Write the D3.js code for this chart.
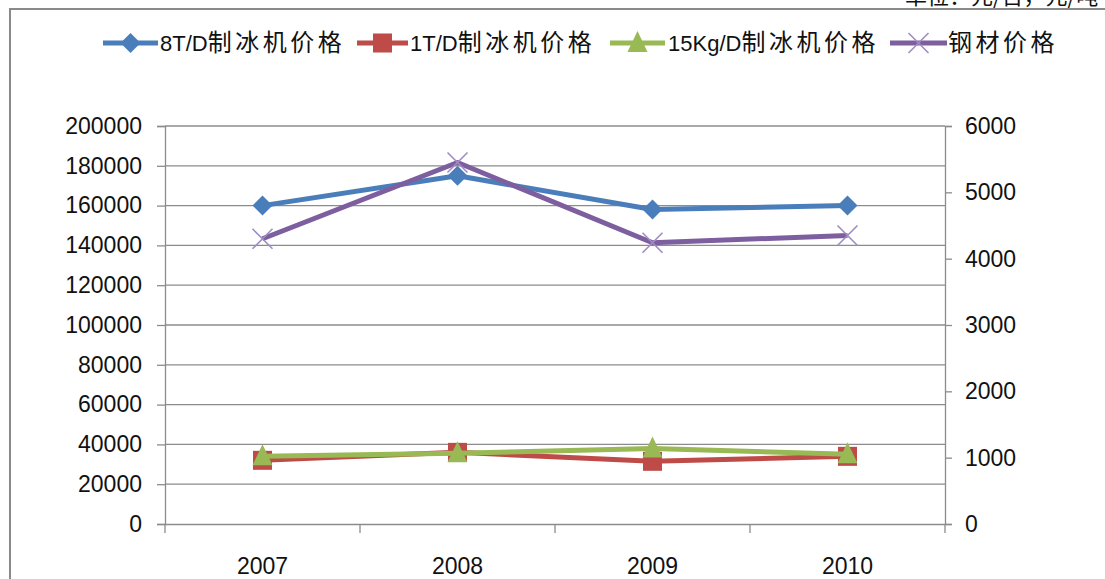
<!DOCTYPE html>
<html><head><meta charset="utf-8">
<script src="https://cdn.jsdelivr.net/npm/d3@7"></script>
<style>body{margin:0;background:#fff;}svg{display:block;}</style>
</head><body>
<svg id="c" width="1105" height="579"></svg>
<script>
const categories = ["2007","2008","2009","2010"];
const ice8T = [160000,175000,158000,160000];
const ice1T = [32000,36000,31500,34000];
const ice15Kg = [34000,35500,38000,35000];
const steel = [4300,5450,4240,4350];
const leftTicks = [0,20000,40000,60000,80000,100000,120000,140000,160000,180000,200000];
const rightTicks = [0,1000,2000,3000,4000,5000,6000];
const seriesNames = ["8T/D制冰机价格","1T/D制冰机价格","15Kg/D制冰机价格","钢材价格"];
const unitText = "单位：元/台，元/吨";

const svg = d3.select("#c");
const L=165, R=945, T=126, B=524;
const x = d3.scaleBand().domain(categories).range([L,R]);
const yL = d3.scaleLinear().domain([0,200000]).range([B,T]);
const yR = d3.scaleLinear().domain([0,6000]).range([B,T]);
const grid="#8c8c8c";
const font="'Liberation Sans', Arial, sans-serif";
const cjk="'Noto Sans CJK SC',sans-serif";

svg.append("rect").attr("x",10).attr("y",9).attr("width",1200).attr("height",700)
  .attr("fill","none").attr("stroke","#8a8a8a").attr("stroke-width",2);
svg.append("text").attr("x",905).attr("y",4).attr("font-family",cjk).attr("font-size",22)
  .attr("fill","#111").text(unitText);

svg.append("g").selectAll("line").data(leftTicks.filter(d=>d>0)).join("line")
  .attr("x1",L).attr("x2",R).attr("y1",d=>yL(d)).attr("y2",d=>yL(d))
  .attr("stroke",grid).attr("stroke-width",1.3);

const gl = svg.append("g").attr("transform",`translate(${L},0)`)
  .call(d3.axisLeft(yL).tickValues(leftTicks).tickSize(8).tickPadding(15).tickFormat(d3.format("d")));
const gr = svg.append("g").attr("transform",`translate(${R},0)`)
  .call(d3.axisRight(yR).tickValues(rightTicks).tickSize(7).tickPadding(13).tickFormat(d3.format("d")));
const gb = svg.append("g").attr("transform",`translate(0,${B})`)
  .call(d3.axisBottom(x).tickSize(0).tickPadding(34));
svg.append("g").selectAll("line").data(categories.concat(["end"])).join("line")
  .attr("x1",(d,i)=> i<categories.length? x(d): R).attr("x2",(d,i)=> i<categories.length? x(d): R)
  .attr("y1",B).attr("y2",B+9).attr("stroke",grid).attr("stroke-width",1.3);

[gl,gr,gb].forEach(g=>{
  g.select(".domain").attr("stroke",grid).attr("stroke-width",1.3);
  g.selectAll(".tick line").attr("stroke",grid).attr("stroke-width",1.3);
  g.selectAll("text").attr("font-family",font).attr("font-size",23).attr("fill","#111");
});

const cx = d=>x(d)+x.bandwidth()/2;
const colors=["#4a7ebb","#be4b48","#98b954","#7d5fa0"];
const data=[ice8T,ice1T,ice15Kg,steel];
const scales=[yL,yL,yL,yR];
const shapes=["diamond","square","triangle","x"];

function marker(g,shape,px,py,col){
  if(shape==="diamond"){
    g.append("path").attr("d",`M${px},${py-10}L${px+10},${py}L${px},${py+10}L${px-10},${py}Z`).attr("fill",col);
  } else if(shape==="square"){
    g.append("rect").attr("x",px-9.5).attr("y",py-9.5).attr("width",19).attr("height",19).attr("fill",col);
  } else if(shape==="triangle"){
    g.append("path").attr("d",`M${px},${py-12}L${px+10},${py+9}L${px-10},${py+9}Z`).attr("fill",col);
  } else {
    g.append("path").attr("d",`M${px-10},${py-10}L${px+10},${py+10}M${px+10},${py-10}L${px-10},${py+10}`)
      .attr("stroke","#a08cc4").attr("stroke-width",1.6).attr("fill","none");
  }
}

data.forEach((vals,si)=>{
  const g=svg.append("g");
  const line=d3.line().x((d,i)=>cx(categories[i])).y(d=>scales[si](d));
  g.append("path").attr("d",line(vals)).attr("fill","none").attr("stroke",colors[si])
    .attr("stroke-width",5).attr("stroke-linejoin","round");
  vals.forEach((v,i)=>marker(g,shapes[si],cx(categories[i]),scales[si](v),colors[si]));
});

const legX=[103,357,610,890];
const legLen=[55,51,55,57];
const legTxtX=[160,410,668,948];
const ly=43;
seriesNames.forEach((n,i)=>{
  const g=svg.append("g");
  g.append("line").attr("x1",legX[i]).attr("x2",legX[i]+legLen[i]).attr("y1",ly).attr("y2",ly)
    .attr("stroke",colors[i]).attr("stroke-width",5);
  marker(g,shapes[i],legX[i]+legLen[i]/2,ly,colors[i]);
  const m = n.match(/^([A-Za-z0-9\/]*)(.*)$/);
  const t = g.append("text").attr("x",legTxtX[i]).attr("y",ly+8).attr("fill","#111");
  if(m[1]) t.append("tspan").attr("font-family",font).attr("font-size",22).text(m[1]);
  t.append("tspan").attr("font-family",cjk).attr("font-size",24).attr("letter-spacing",3.5).text(m[2]);
});
</script>
</body></html>
